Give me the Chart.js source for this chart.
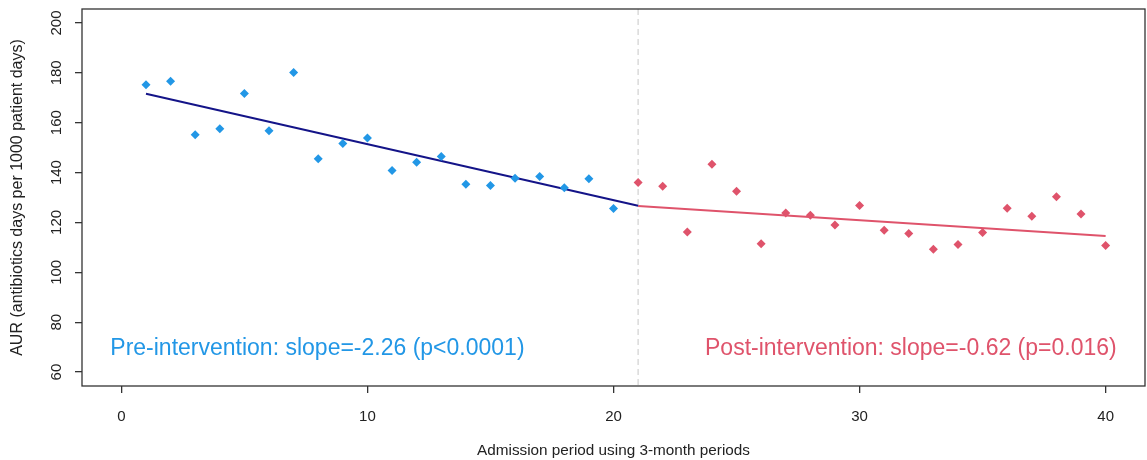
<!DOCTYPE html>
<html>
<head>
<meta charset="utf-8">
<script src="https://cdn.jsdelivr.net/npm/chart.js@4.4.1/dist/chart.umd.min.js"></script>
<style>
  body { margin: 0; background: #fff; }
  #grafico { display: block; }
</style>
</head>
<body>
<canvas id="grafico" width="1147" height="460"></canvas>
<script>
// periodos de 3 meses
const periodosPre = [1,2,3,4,5,6,7,8,9,10,11,12,13,14,15,16,17,18,19,20];
const periodosPos = [21,22,23,24,25,26,27,28,29,30,31,32,33,34,35,36,37,38,39,40];

// AUR
const aurPre = [175.2,176.6,155.2,157.6,171.7,156.8,180.1,145.5,151.7,153.9,
                140.8,144.1,146.4,135.3,134.8,137.7,138.4,133.9,137.5,125.6];
const aurPos = [136.0,134.5,116.2,143.3,132.5,111.5,123.8,122.9,119.0,126.8,
                116.9,115.6,109.2,111.2,116.0,125.7,122.5,130.3,123.4,110.7];

// retas de tendencia (inicio e fim)
const tendPreX = [1, 21];
const tendPreY = [171.6, 126.7];
const tendPosX = [21, 40];
const tendPosY = [126.6, 114.6];

const xTicks = [0, 10, 20, 30, 40];
const yTicks = [60, 80, 100, 120, 140, 160, 180, 200];
const periodoIntervencao = 21;

const textoPre = 'Pre-intervention: slope=-2.26 (p<0.0001)';
const textoPos = 'Post-intervention: slope=-0.62 (p=0.016)';

const azul = '#2297E6';
const vermelho = '#DF536B';

Chart.defaults.font.family = '"Liberation Sans", Arial, sans-serif';
Chart.defaults.color = '#222';

function pontos(xs, ys) {
  return xs.map((v, i) => ({ x: v, y: ys[i] }));
}

// tira o espaco extra que o chart.js reserva para os rotulos
function semPadding(s) {
  s.paddingTop = 0;
  s.paddingBottom = 0;
  s.paddingLeft = 0;
  s.paddingRight = 0;
}

const extras = {
  id: 'extras',
  beforeDatasetsDraw(chart) {
    const { ctx, chartArea: a, scales: { x } } = chart;
    const px = x.getPixelForValue(periodoIntervencao);
    ctx.save();
    ctx.strokeStyle = '#d0d0d0';
    ctx.lineWidth = 1.2;
    ctx.setLineDash([6, 4]);
    ctx.beginPath();
    ctx.moveTo(px, a.top);
    ctx.lineTo(px, a.bottom);
    ctx.stroke();
    ctx.restore();
  },
  afterDraw(chart) {
    const { ctx, chartArea: a, scales: { x, y } } = chart;
    ctx.save();
    ctx.strokeStyle = '#333';
    ctx.lineWidth = 1.3;
    ctx.strokeRect(a.left, a.top, a.right - a.left, a.bottom - a.top);

    ctx.font = '23px "Liberation Sans", Arial, sans-serif';
    ctx.textBaseline = 'middle';
    ctx.fillStyle = azul;
    ctx.textAlign = 'left';
    ctx.fillText(textoPre, x.getPixelForValue(-0.45), y.getPixelForValue(69.3));
    ctx.fillStyle = vermelho;
    ctx.textAlign = 'right';
    ctx.fillText(textoPos, x.getPixelForValue(40.45), y.getPixelForValue(69.3));
    ctx.restore();
  }
};

new Chart(document.getElementById('grafico'), {
  type: 'scatter',
  data: {
    datasets: [
      {
        label: 'Pre',
        data: pontos(periodosPre, aurPre),
        pointStyle: 'rectRot',
        pointRadius: 4.5,
        pointBackgroundColor: azul,
        pointBorderColor: azul,
        pointBorderWidth: 0
      },
      {
        label: 'Post',
        data: pontos(periodosPos, aurPos),
        pointStyle: 'rectRot',
        pointRadius: 4.5,
        pointBackgroundColor: vermelho,
        pointBorderColor: vermelho,
        pointBorderWidth: 0
      },
      {
        type: 'line',
        label: 'Tendencia pre',
        data: pontos(tendPreX, tendPreY),
        borderColor: '#141488',
        borderWidth: 2,
        pointRadius: 0
      },
      {
        type: 'line',
        label: 'Tendencia pos',
        data: pontos(tendPosX, tendPosY),
        borderColor: vermelho,
        borderWidth: 2,
        pointRadius: 0
      }
    ]
  },
  options: {
    responsive: false,
    animation: false,
    devicePixelRatio: 1,
    layout: { autoPadding: false, padding: { top: 9, right: 2, left: 0, bottom: 0 } },
    plugins: { legend: { display: false }, tooltip: { enabled: false } },
    scales: {
      x: {
        type: 'linear',
        min: -1.6,
        max: 41.6,
        afterBuildTicks: (s) => { s.ticks = xTicks.map(v => ({ value: v })); },
        afterFit: (s) => { s.height = 74; semPadding(s); },
        border: { display: false },
        grid: { drawOnChartArea: false, drawTicks: true, tickLength: 7, color: '#333', lineWidth: 1.3 },
        ticks: { font: { size: 15 }, color: '#222', padding: 15, maxRotation: 0 },
        title: {
          display: true,
          text: 'Admission period using 3-month periods',
          font: { size: 15.3 },
          color: '#222',
          padding: { top: 0, bottom: 0 }
        }
      },
      y: {
        min: 54.4,
        max: 205.6,
        afterBuildTicks: (s) => { s.ticks = yTicks.map(v => ({ value: v })); },
        afterFit: (s) => { s.width = 82; semPadding(s); },
        border: { display: false },
        grid: { drawOnChartArea: false, drawTicks: true, tickLength: 7, color: '#333', lineWidth: 1.3 },
        ticks: { font: { size: 15 }, color: '#222', padding: 6, minRotation: 90, maxRotation: 90, crossAlign: 'center' },
        title: {
          display: true,
          text: 'AUR (antibiotics days per 1000 patient days)',
          font: { size: 16 },
          color: '#222',
          padding: { top: 8, bottom: 0 }
        }
      }
    }
  },
  plugins: [extras]
});
</script>
</body>
</html>
